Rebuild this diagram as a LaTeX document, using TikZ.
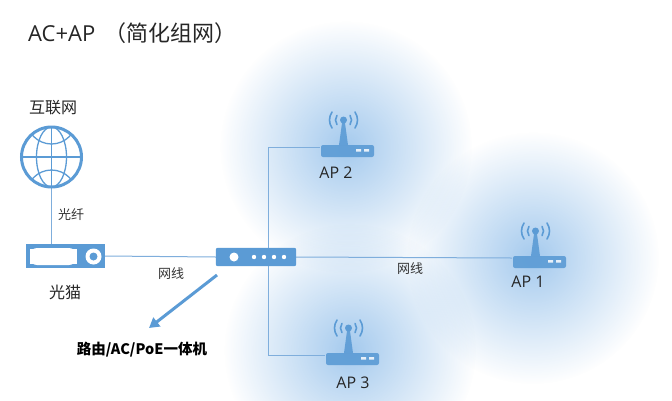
\documentclass[tikz,border=0pt]{standalone}
\usepackage{fontspec}
\setmainfont{Noto Sans CJK SC}
\newfontfamily\latinf{Open Sans}
\usetikzlibrary{fadings,arrows.meta}
\definecolor{iconblue}{HTML}{5B9BD5}
\definecolor{lineblue}{HTML}{7FAEDC}
\definecolor{glow}{HTML}{5B9FE0}
\tikzfading[name=glowfade,inner color=transparent!45,outer color=transparent!100]
\tikzset{
  x=1pt,y=-1pt,
  cell/.style={fill=glow,path fading=glowfade,fit fading=true},
  link/.style={draw=lineblue,line width=1pt},
  lbl/.style={font=\fontsize{16}{18}\selectfont,text=black!85,inner sep=0pt},
  small/.style={font=\fontsize{13}{15}\selectfont,text=black!80,inner sep=0pt},
  devbox/.style={fill=iconblue,inner sep=0pt,minimum width=#1,minimum height=26pt,draw=none},
  ap/.pic={
    \fill[iconblue,opacity=.9,rounded corners=2pt] (-25,-2) rectangle (28,10);
    \fill[iconblue,opacity=.9] (-4,-24) -- (-1,-24) -- (2,-2) -- (-7,-2) -- cycle;
    \fill[iconblue] (-2.5,-27) circle (3.5);
    \foreach \r in {8,14}{
      \draw[iconblue,line width=1.6pt,line cap=round] (-2.5,-27) ++(-35:\r) arc (-35:35:\r);
      \draw[iconblue,line width=1.6pt,line cap=round] (-2.5,-27) ++(145:\r) arc (145:215:\r);
    }
    \fill[white!85!iconblue] (10,2) rectangle (15,4.5) (18,2) rectangle (23,4.5);
  }
}
\begin{document}
\begin{tikzpicture}
\useasboundingbox (0,0) rectangle (672,400);
\fill[white] (0,0) rectangle (672,400);
\begin{scope}
\clip (0,0) rectangle (672,400);
\fill[cell] (346,147) circle (126);
\fill[cell] (533,258) circle (126);
\fill[cell] (350,350) circle (126);
\end{scope}

\node[lbl,font=\latinf\fontsize{22}{26}\selectfont,anchor=west] (title) at (28,33) {AC+AP \,{\fontsize{22}{26}\selectfont\rmfamily（简化组网）}};

% endpoints
\coordinate (ap2p) at (320,147);
\coordinate (ap1p) at (512,258);
\coordinate (ap3p) at (325,355);
\coordinate (bus) at (268,258);

% globe
\node[circle,minimum size=60pt,inner sep=0pt] (globe) at (51.5,157) {};
\node[minimum width=79pt,minimum height=24pt,inner sep=0pt] (modem) at (65.5,256) {};
\node[minimum width=80pt,minimum height=18pt,inner sep=0pt] (hub) at (256,257) {};

\draw[link] (globe.south) -- (globe.south |- modem.north);
\draw[link] (modem.east) -- (hub.west);
\draw[link] (hub.east) -- (ap1p);
\draw[link] (bus |- hub.north) -- (268,147) -- (ap2p);
\draw[link] (bus |- hub.south) -- (268,355) -- (ap3p);

% globe icon
\begin{scope}[shift={(51.5,157)}]
\draw[iconblue,line width=3pt] (0,0) circle (30);
\begin{scope}
\clip (0,0) circle (30);
\draw[iconblue,line width=1.3pt] (0,-30) -- (0,30) (-30,0) -- (30,0);
\draw[iconblue,line width=1.3pt] (0,0) ellipse (15 and 30);
\draw[iconblue,line width=1.3pt] (0,-38) circle (25) (0,38) circle (25);
\end{scope}
\end{scope}

% modem
\fill[iconblue] (modem.south west) rectangle (modem.north east);
\fill[white] (30,248.5) rectangle (77,264) ;
\fill[white,rounded corners=7pt] (30,248) rectangle (76,265);
\fill[white] (93.5,256.5) circle (8);
\fill[iconblue] (93.5,256.5) circle (4);

% hub
\fill[iconblue,rounded corners=2pt] (hub.south west) rectangle (hub.north east);
\fill[white] (234,257) circle (4.5);
\foreach \x in {254,264,274,284} \fill[white] (\x,257) circle (2.2);

\draw[iconblue,line width=3pt,-{Triangle[length=10pt,width=11pt]}] (217,275) -- (149,328);

\pic at (346,147) {ap};
\pic at (538,258) {ap};
\pic at (351,355) {ap};

\node[lbl] (t1) at (53,108) {互联网};
\node[small] (t2) at (71,215) {光纤};
\node[lbl] (t3) at (65,292) {光猫};
\node[small] (t4) at (171,274) {网线};
\node[small] (t5) at (410,269) {网线};
\node[lbl,font=\latinf\fontsize{16}{18}\selectfont] (t6) at (336,173) {AP 2};
\node[lbl,font=\latinf\fontsize{16}{18}\selectfont] (t7) at (528,282) {AP 1};
\node[lbl,font=\latinf\fontsize{16}{18}\selectfont] (t8) at (353,383) {AP 3};
\node[inner sep=0pt,font=\bfseries\fontsize{14.5}{17}\selectfont,text=black] (t9) at (142,350) {路由/AC/PoE一体机};
\end{tikzpicture}
\end{document}
